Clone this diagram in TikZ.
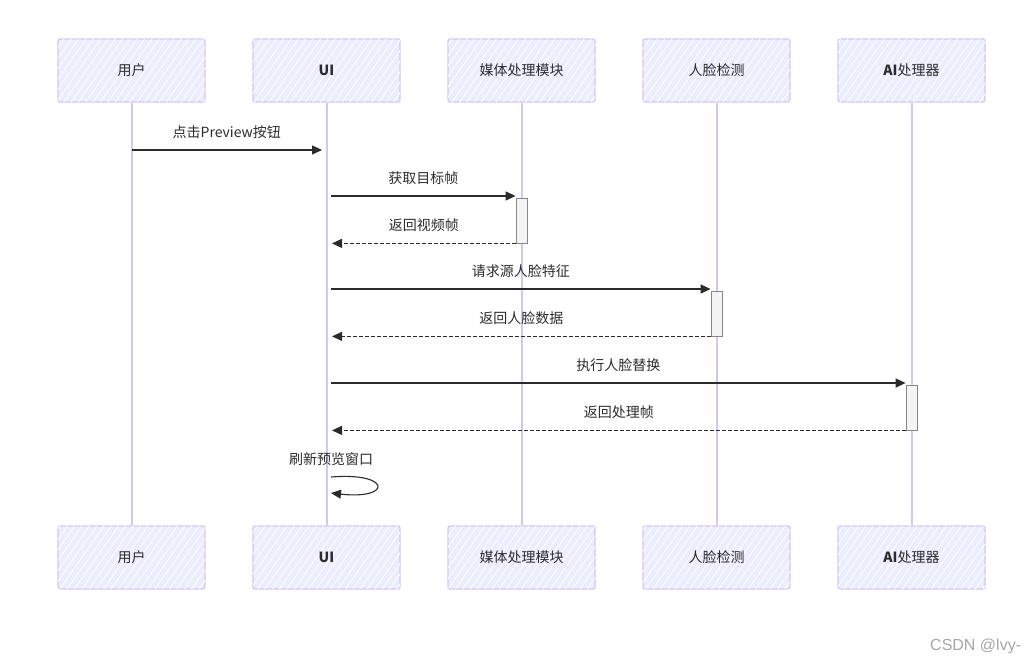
\documentclass[tikz,border=0pt]{standalone}
\usepackage{fontspec}
\setmainfont{Noto Sans CJK SC}
\newfontfamily\wmfont{Liberation Sans}
\usetikzlibrary{arrows.meta,patterns.meta}
\definecolor{boxfill}{HTML}{ECECFF}
\definecolor{boxline}{HTML}{D4C8F5}
\definecolor{lifec}{HTML}{D2C6F6}
\definecolor{textc}{HTML}{2B2B2B}
\definecolor{actfill}{HTML}{F4F4F4}
\definecolor{actline}{HTML}{888888}
\tikzset{
  actor/.style={draw=boxline, line width=1.2pt, fill=boxfill, rounded corners=2pt,
    minimum width=147pt, minimum height=63pt, text=textc,
    font=\fontsize{14}{16}\selectfont,
    postaction={pattern={Lines[angle=55,distance=6pt,line width=0.9pt]}, pattern color=white}},
  life/.style={draw=lifec, line width=2pt},
  actbar/.style={draw=actline, line width=0.8pt, fill=actfill, minimum width=11pt, minimum height=45pt, inner sep=0pt},
  msg/.style={draw=textc, line width=1.3pt, -{Triangle[length=10pt,width=9pt]}},
  ret/.style={draw=textc, line width=1.2pt, dashed, dash pattern=on 4pt off 2pt, -{Triangle[length=10pt,width=9pt]}},
  lbl/.style={text=textc, font=\fontsize{14}{16}\selectfont, inner sep=0pt},
}
\begin{document}
\begin{tikzpicture}[x=1pt,y=-1pt]
\useasboundingbox (0,0) rectangle (1033,664);
% top actors
\node[actor] (t1) at (131.5,70.5) {用户};
\node[actor] (t2) at (326.5,70.5) {\textbf{UI}};
\node[actor] (t3) at (521.5,70.5) {媒体处理模块};
\node[actor] (t4) at (716.5,70.5) {人脸检测};
\node[actor] (t5) at (911.5,70.5) {\textbf{AI}处理器};
% bottom actors
\node[actor] (b1) at (131.5,557.5) {用户};
\node[actor] (b2) at (326.5,557.5) {\textbf{UI}};
\node[actor] (b3) at (521.5,557.5) {媒体处理模块};
\node[actor] (b4) at (716.5,557.5) {人脸检测};
\node[actor] (b5) at (911.5,557.5) {\textbf{AI}处理器};
% lifelines
\foreach \i in {1,...,5} {\draw[life] (t\i.south) -- (b\i.north);}
% activation bars
\node[actbar] (a3) at (521.5,220.5) {};
\node[actbar] (a4) at (716.5,313.5) {};
\node[actbar] (a5) at (911.5,407.5) {};
% message end points
\coordinate (m1s) at (131.5,150);
\coordinate (m1e) at (322,150);
\coordinate (m2s) at (331,196);
\coordinate (m3e) at (332,242);
\coordinate (m4s) at (331,289);
\coordinate (m5e) at (332,336);
\coordinate (m6s) at (331,383);
\coordinate (m7e) at (332,430);
\coordinate (s1) at (331,477);
\coordinate (s2) at (331,493);
% messages
\draw[msg] (m1s) -- node[lbl, above=11pt] {点击Preview按钮} (m1e);
\draw[msg] (m2s) -- node[lbl, above=11pt] {获取目标帧} (m2s -| a3.west);
\draw[ret] (a3.south west) -- node[lbl, above=11pt] {返回视频帧} (a3.south west -| m3e);
\draw[msg] (m4s) -- node[lbl, above=11pt] {请求源人脸特征} (m4s -| a4.west);
\draw[ret] (a4.south west) -- node[lbl, above=11pt] {返回人脸数据} (a4.south west -| m5e);
\draw[msg] (m6s) -- node[lbl, above=11pt] {执行人脸替换} (m6s -| a5.west);
\draw[ret] (a5.south west) -- node[lbl, above=11pt] {返回处理帧} (a5.south west -| m7e);
\node[lbl] (selflbl) at (331,459) {刷新预览窗口};
\draw[msg, line width=1.1pt] (s1) .. controls (392,472) and (392,500) .. (s2);
% watermark
\node[anchor=west, inner sep=0pt, text=black!35, font=\wmfont\fontsize{16}{18}\selectfont] (wm) at (930,646) {CSDN @lvy-};
\end{tikzpicture}
\end{document}
